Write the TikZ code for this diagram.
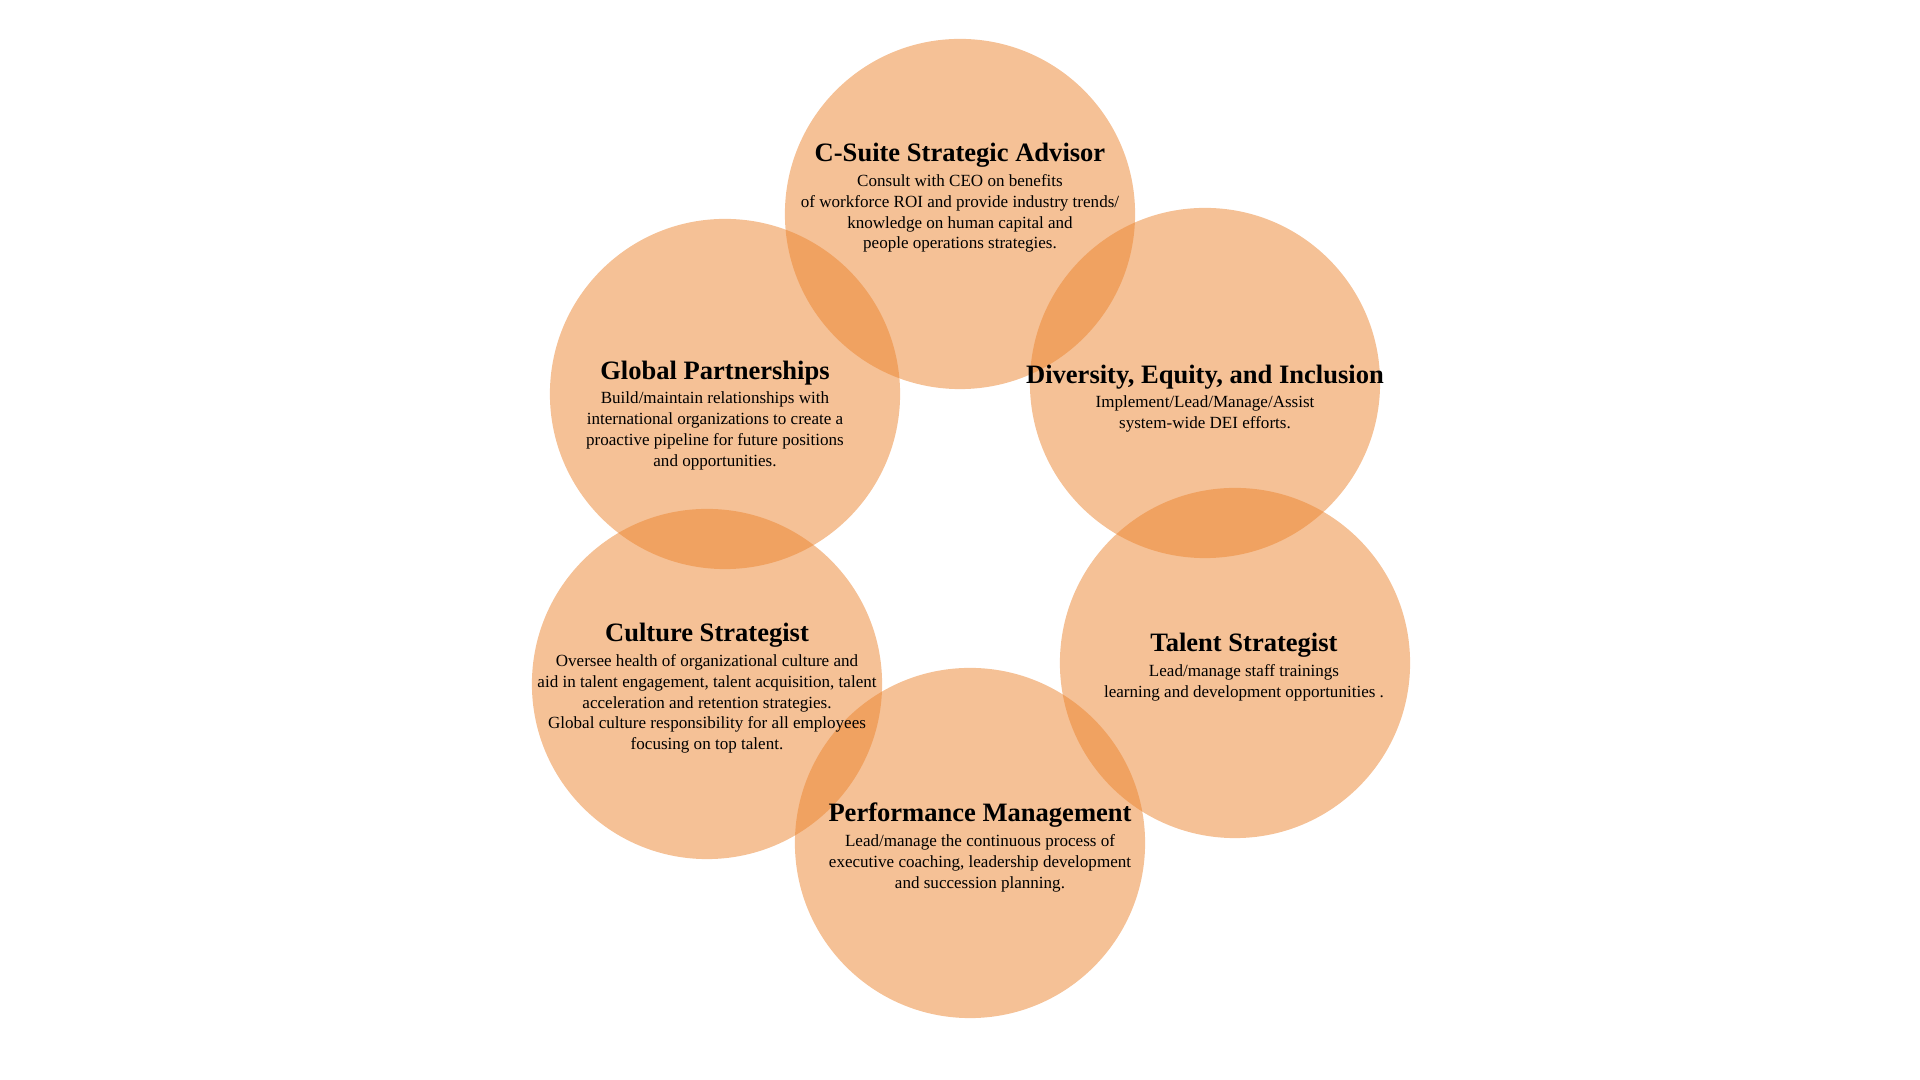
\documentclass[tikz,border=0pt]{standalone}
\usepackage{fontspec}
\setmainfont{Liberation Serif}
\usetikzlibrary{positioning}
\definecolor{roleOrange}{HTML}{EB832D}
\tikzset{
  rolecircle/.style={circle, fill=roleOrange, fill opacity=0.5, minimum size=3.5cm, inner sep=0pt},
  roletitle/.style={font=\fontsize{7.55}{8}\selectfont\bfseries, inner sep=0pt},
  roletext/.style={align=center, font=\fontsize{4.85}{5.95}\selectfont, inner sep=0pt},
}

\begin{document}
\begin{tikzpicture}[x=0.01cm, y=-0.01cm, node distance=1.6pt]
  \useasboundingbox (0,0) rectangle (1920,1080);
  \node[rolecircle] (adv) at (960,214) {};
  \node[rolecircle] (glob) at (725,394) {};
  \node[rolecircle] (dei) at (1205,383) {};
  \node[rolecircle] (cult) at (707,684) {};
  \node[rolecircle] (tal) at (1235,663) {};
  \node[rolecircle] (perf) at (970,843) {};

  \node[roletitle] (advT) at (960,155) {C-Suite Strategic Advisor};
  \node[roletext, below=of advT] (advD) {Consult with CEO on benefits\\
    of workforce ROI and provide industry trends/\\
    knowledge on human capital and\\ people operations strategies.};
  \node[roletitle] (globT) at (715,373) {Global Partnerships};
  \node[roletext, below=of globT] (globD) {Build/maintain relationships with\\
    international organizations to create a\\
    proactive pipeline for future positions\\ and opportunities.};
  \node[roletitle] (deiT) at (1205,377) {Diversity, Equity, and Inclusion};
  \node[roletext, below=of deiT] (deiD) {Implement/Lead/Manage/Assist\\ system-wide DEI efforts.};
  \node[roletitle] (cultT) at (707,635) {Culture Strategist};
  \node[roletext, below=of cultT] (cultD) {Oversee health of organizational culture and\\
    aid in talent engagement, talent acquisition, talent\\
    acceleration and retention strategies.\\
    Global culture responsibility for all employees\\ focusing on top talent.};
  \node[roletitle] (talT) at (1244,645) {Talent Strategist};
  \node[roletext, below=of talT] (talD) {Lead/manage staff trainings\\
    learning and development opportunities .};
  \node[roletitle] (perfT) at (980,815) {Performance Management};
  \node[roletext, below=of perfT] (perfD) {Lead/manage the continuous process of\\
    executive coaching, leadership development\\ and succession planning.};
\end{tikzpicture}
\end{document}
